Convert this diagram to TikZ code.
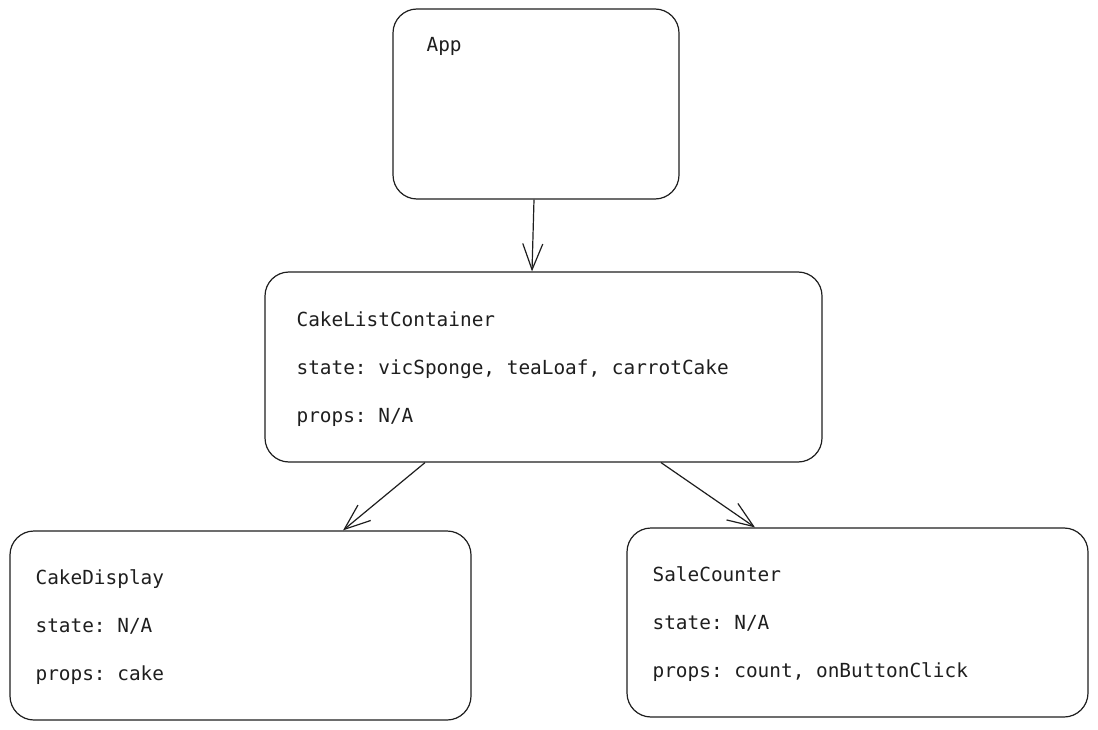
\documentclass[tikz,border=0pt]{standalone}
\usepackage{fontspec}
\setmonofont{DejaVu Sans Mono}
\usepackage{xcolor}
\usetikzlibrary{calc,positioning,arrows.meta}
\definecolor{ink}{HTML}{1E1E1E}

\tikzset{
  comp/.style={draw=ink, line width=1.2pt, rounded corners=24pt, inner sep=0pt},
  txt/.style={text=ink, inner sep=0pt, anchor=base west, font=\fontsize{19.4pt}{23pt}\selectfont\ttfamily},
  link/.style={draw=ink, line width=1.2pt, -{Straight Barb[length=26pt,width=20pt]}}
}

\begin{document}
\begin{tikzpicture}[x=1pt,y=-1pt]
    \useasboundingbox (0,0) rectangle (1098,730);
    % boxes
    \node[comp, minimum width=286pt, minimum height=190pt] (app) at (536,104) {};
    \node[comp, minimum width=557pt, minimum height=190pt] (clc) at (543.5,367) {};
    \node[comp, minimum width=461pt, minimum height=189pt] (cd) at (240.5,625.5) {};
    \node[comp, minimum width=461pt, minimum height=189pt] (sc) at (857.5,622.5) {};
    % texts
    \node[txt] (app-name) at ([shift={(34pt,-43pt)}]app.north west) {App};
    \node[txt] (clc-name) at ([shift={(32pt,-55pt)}]clc.north west) {CakeListContainer};
    \node[txt] (clc-state) at ([yshift=-48pt]clc-name.base west) {state: vicSponge, teaLoaf, carrotCake};
    \node[txt] (clc-props) at ([yshift=-48pt]clc-state.base west) {props: N/A};
    \node[txt] (cd-name) at ([shift={(26pt,-54pt)}]cd.north west) {CakeDisplay};
    \node[txt] (cd-state) at ([yshift=-48pt]cd-name.base west) {state: N/A};
    \node[txt] (cd-props) at ([yshift=-48pt]cd-state.base west) {props: cake};
    \node[txt] (sc-name) at ([shift={(26pt,-54pt)}]sc.north west) {SaleCounter};
    \node[txt] (sc-state) at ([yshift=-48pt]sc-name.base west) {state: N/A};
    \node[txt] (sc-props) at ([yshift=-48pt]sc-state.base west) {props: count, onButtonClick};
    % arrows
    \draw[link] ([xshift=-2pt]app.south) -- ([xshift=-11.5pt]clc.north);
    \draw[link] ([xshift=-118.5pt]clc.south) -- ([xshift=102.5pt]cd.north);
    \draw[link] ([xshift=117.5pt]clc.south) -- ([xshift=-102.5pt]sc.north);
\end{tikzpicture}
\end{document}
